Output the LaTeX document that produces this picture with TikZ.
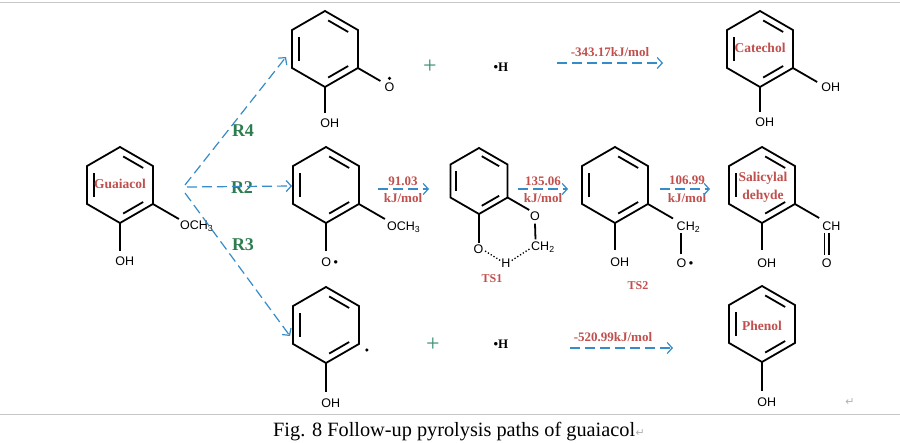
\documentclass[tikz,border=0pt]{standalone}
\usepackage{fontspec}
\setmainfont{Liberation Serif}
\newfontfamily\chemfont{Liberation Sans}
\newfontfamily\symfont{DejaVu Sans}
\usetikzlibrary{calc,arrows.meta}
\definecolor{arrblue}{RGB}{54,140,200}
\definecolor{lblred}{RGB}{192,80,77}
\definecolor{rgreen}{RGB}{46,125,80}
\definecolor{plusgreen}{RGB}{60,145,115}
% #1 name, #2 x, #3 y (y grows downwards), #4 radius
\newcommand\ringhex[4]{%
  \begin{scope}[shift={(#2,#3)}]
    \coordinate (#1) at (0,0);
    \coordinate (#1-t) at (-90:#4);
    \coordinate (#1-ur) at (-30:#4);
    \coordinate (#1-lr) at (30:#4);
    \coordinate (#1-b) at (90:#4);
    \coordinate (#1-ll) at (150:#4);
    \coordinate (#1-ul) at (210:#4);
    \draw[bond] (#1-t)--(#1-ur)--(#1-lr)--(#1-b)--(#1-ll)--(#1-ul)--cycle;
    \draw[bond] ($(210:0.8*#4)!0.12!(150:0.8*#4)$) -- ($(210:0.8*#4)!0.88!(150:0.8*#4)$);
    \draw[bond] ($(-90:0.8*#4)!0.12!(-30:0.8*#4)$) -- ($(-90:0.8*#4)!0.88!(-30:0.8*#4)$);
    \draw[bond] ($(30:0.8*#4)!0.12!(90:0.8*#4)$) -- ($(30:0.8*#4)!0.88!(90:0.8*#4)$);
  \end{scope}}
\begin{document}
\begin{tikzpicture}[x=1pt,y=-1pt,
  bond/.style={line width=1.8pt,black},
  hb/.style={line width=1.3pt,dash pattern=on 1.3pt off 2pt},
  chem/.style={font=\chemfont\fontsize{12.5}{12.5}\selectfont,inner sep=0pt},
  lbl/.style={font=\bfseries\fontsize{13.5}{14}\selectfont,text=lblred,inner sep=0pt},
  elbl/.style={font=\bfseries\fontsize{13}{14}\selectfont,text=lblred,inner sep=0pt},
  rlbl/.style={font=\bfseries\fontsize{18}{18}\selectfont,text=rgreen,inner sep=0pt},
  plussign/.style={font=\fontsize{24}{24}\selectfont,text=plusgreen,inner sep=0pt},
  hrad/.style={font=\bfseries\fontsize{13}{13}\selectfont,inner sep=0pt},
  arr/.style={draw=arrblue,line width=1.2pt,dash pattern=on 10pt off 5pt,
    -{Straight Barb[length=5pt,width=11pt]}},
  retmark/.style={font=\symfont\fontsize{11}{11}\selectfont,text=gray!60,inner sep=0pt},
  rule/.style={draw=gray!45,line width=0.8pt}
]
\useasboundingbox (0,0) rectangle (900,443);
\fill[white] (0,0) rectangle (900,443);
\draw[rule] (0,2) -- (900,2);
\draw[rule] (0,414) -- (900,414);

% ---------- Guaiacol ----------
\ringhex{g}{120}{185}{38}
\node[lbl] (gname) at (120,184) {Guaiacol};
\coordinate (g-o) at ($(g-lr)+(30:30)$);
\draw[bond] (g-lr) -- (g-o);
\node[chem,anchor=west] (g-och) at ($(g-o)+(1,7)$) {OCH\textsubscript{3}};
\coordinate (g-ohb) at ($(g-b)+(0,28)$);
\draw[bond] (g-b) -- (g-ohb);
\node[chem,anchor=west] (g-oh) at ($(g-ohb)+(-4.9,10)$) {OH};

% ---------- top row ----------
\ringhex{t1}{325}{49}{38}
\coordinate (t1-ob) at ($(t1-lr)+(30:26)$);
\draw[bond] (t1-lr) -- (t1-ob);
\node[chem,anchor=west] (t1-o) at ($(t1-ob)+(4,6)$) {O};
\fill ($(t1-o.north)+(0,-4)$) circle (1.8pt);
\coordinate (t1-ohb) at ($(t1-b)+(0,26)$);
\draw[bond] (t1-b) -- (t1-ohb);
\node[chem,anchor=west] (t1-oh) at ($(t1-ohb)+(-4.9,10)$) {OH};
\node[plussign] (plus1) at (430,67) {+};
\node[hrad] (h1) at (501,67) {•H};
\coordinate (a1s) at (557,63);
\coordinate (a1e) at (663,63);
\node[elbl] (e1) at (610,52) {-343.17kJ/mol};
\draw[arr] (a1s) -- (a1e);
\ringhex{c}{760}{49}{38}
\node[lbl] (cname) at (760,48) {Catechol};
\coordinate (c-o) at ($(c-lr)+(30:28)$);
\draw[bond] (c-lr) -- (c-o);
\node[chem,anchor=west] (c-oh1) at ($(c-o)+(4,5)$) {OH};
\coordinate (c-ohb) at ($(c-b)+(0,25)$);
\draw[bond] (c-b) -- (c-ohb);
\node[chem,anchor=west] (c-oh2) at ($(c-ohb)+(-4.9,10)$) {OH};

% ---------- middle row ----------
\ringhex{m1}{326}{185}{38}
\coordinate (m1-o) at ($(m1-lr)+(30:30)$);
\draw[bond] (m1-lr) -- (m1-o);
\node[chem,anchor=west] (m1-och) at ($(m1-o)+(2,8)$) {OCH\textsubscript{3}};
\coordinate (m1-ob) at ($(m1-b)+(0,28)$);
\draw[bond] (m1-b) -- (m1-ob);
\node[chem,anchor=west] (m1-orad) at ($(m1-ob)+(-4.9,11)$) {O\kern2.5pt•};

\coordinate (a2s) at (378,189);
\coordinate (a2e) at (429,189);
\node[elbl] (e2a) at (403,181) {91.03};
\node[elbl] (e2b) at (403,198) {kJ/mol};
\draw[arr] (a2s) -- (a2e);

\ringhex{ts}{479}{181}{33}
\coordinate (ts-ob1) at ($(ts-b)+(0,29)$);
\draw[bond] (ts-b) -- (ts-ob1);
\node[chem] (ts-o1) at (478.5,249) {O};
\coordinate (ts-ob2) at ($(ts-lr)+(30:25)$);
\draw[bond] (ts-lr) -- (ts-ob2);
\node[chem] (ts-o2) at (535,216) {O};
\node[chem,anchor=west] (ts-ch) at (531,247) {CH\textsubscript{2}};
\draw[bond] ($(ts-o2.south)+(0,3)$) -- ($(ts-ch.north west)+(4.5,-2)$);
\node[chem] (ts-h) at (506,263) {H};
\draw[hb] ($(ts-o1.east)+(1.5,2)$) -- ($(ts-h.west)+(-1,-2.5)$);
\draw[hb] ($(ts-h.east)+(1,-2.5)$) -- ($(ts-ch.west)+(-1.5,2)$);
\node[elbl,font=\bfseries\fontsize{12}{12}\selectfont] (ts1) at (492,279) {TS1};

\coordinate (a3s) at (518,189);
\coordinate (a3e) at (568,189);
\node[elbl] (e3a) at (543,181) {135.06};
\node[elbl] (e3b) at (543,198) {kJ/mol};
\draw[arr] (a3s) -- (a3e);

\ringhex{t2}{615}{185}{38}
\coordinate (t2-ohb) at ($(t2-b)+(0,27)$);
\draw[bond] (t2-b) -- (t2-ohb);
\node[chem,anchor=west] (t2-oh) at ($(t2-ohb)+(-4.9,12)$) {OH};
\coordinate (t2-c) at ($(t2-lr)+(30:29)$);
\draw[bond] (t2-lr) -- (t2-c);
\node[chem,anchor=west] (t2-ch) at ($(t2-c)+(3.5,8.5)$) {CH\textsubscript{2}};
\node[chem,anchor=west] (t2-orad) at ($(t2-ch.west)+(0,36)$) {O\kern2.5pt•};
\draw[bond] ($(t2-ch.west)+(4.7,6.5)$) -- ($(t2-ch.west)+(4.7,27)$);
\node[elbl,font=\bfseries\fontsize{12}{12}\selectfont] (ts2) at (638,286) {TS2};

\coordinate (a4s) at (660,189);
\coordinate (a4e) at (710,189);
\node[elbl] (e4a) at (687,180) {106.99};
\node[elbl] (e4b) at (687,198) {kJ/mol};
\draw[arr] (a4s) -- (a4e);

\ringhex{s}{762}{185}{38}
\node[lbl] (sname1) at (763,178) {Salicylal};
\node[lbl] (sname2) at (763,196) {dehyde};
\coordinate (s-ohb) at ($(s-b)+(0,27)$);
\draw[bond] (s-b) -- (s-ohb);
\node[chem,anchor=west] (s-oh) at ($(s-ohb)+(-4.9,13)$) {OH};
\coordinate (s-c) at ($(s-lr)+(30:28)$);
\draw[bond] (s-lr) -- (s-c);
\node[chem,anchor=west] (s-ch) at ($(s-c)+(3,8)$) {CH};
\draw[bond] ($(s-ch.west)+(2.4,7)$) -- ($(s-ch.west)+(2.4,29)$);
\draw[bond] ($(s-ch.west)+(6.8,7)$) -- ($(s-ch.west)+(6.8,29)$);
\node[chem] (s-o) at ($(s-ch.west)+(4.6,37)$) {O};

% ---------- bottom row ----------
\ringhex{p}{326}{325}{38}
\fill ($(p-lr)+(8,6)$) circle (1.8pt);
\coordinate (p-ohb) at ($(p-b)+(0,29)$);
\draw[bond] (p-b) -- (p-ohb);
\node[chem,anchor=west] (p-oh) at ($(p-ohb)+(-4.9,11)$) {OH};
\node[plussign] (plus2) at (433,345) {+};
\node[hrad] (h2) at (501,344) {•H};
\coordinate (a5s) at (570,348);
\coordinate (a5e) at (673,348);
\node[elbl] (e5) at (613,337) {-520.99kJ/mol};
\draw[arr] (a5s) -- (a5e);
\ringhex{ph}{762}{324}{38}
\node[lbl] (phname) at (762,326) {Phenol};
\coordinate (ph-ohb) at ($(ph-b)+(0,29)$);
\draw[bond] (ph-b) -- (ph-ohb);
\node[chem,anchor=west] (ph-oh) at ($(ph-ohb)+(-4.9,11)$) {OH};
\node[retmark] (ret1) at (850,402) {↵};

% ---------- branch arrows ----------
\node[rlbl] (r4) at (243,131) {R4};
\node[rlbl] (r2) at (242,188) {R2};
\node[rlbl] (r3) at (243,245) {R3};
\coordinate (r0a) at (185,185);
\coordinate (r0b) at (187,187);
\coordinate (r0c) at (185,193);
\coordinate (r4e) at (286,57);
\coordinate (r2e) at (292,186);
\coordinate (r3e) at (290,336);
\draw[arr] (r0a) -- (r4e);
\draw[arr] (r0b) -- (r2e);
\draw[arr] (r0c) -- (r3e);

% ---------- caption ----------
\node[font=\fontsize{20.3}{21}\selectfont,anchor=base west,inner sep=0pt] (cap) at (273,437)
  {Fig. 8 Follow-up pyrolysis paths of guaiacol};
\node[retmark,anchor=base west] (ret2) at (cap.base east) {↵};
\end{tikzpicture}
\end{document}
